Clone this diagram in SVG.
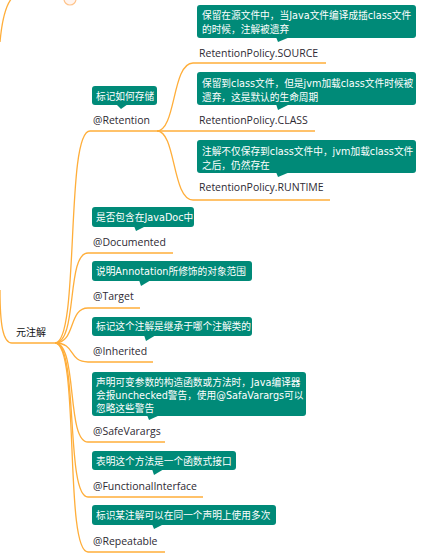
<svg xmlns="http://www.w3.org/2000/svg" width="436" height="559" viewBox="0 0 436 559">
<style>
.c{fill:none;stroke:#ffae3a;stroke-width:1.3}
.box{fill:#008a78}
.ct{font-family:"DejaVu Sans","Noto Sans CJK SC",sans-serif;font-size:9.7px;fill:#ffffff}
.lb{font-family:"Open Sans","Noto Sans",sans-serif;font-size:10.5px;fill:#2e2a33}
.rt{font-family:"Noto Sans CJK SC",sans-serif;font-size:10px;fill:#111}
</style>
<rect width="436" height="559" fill="#ffffff"/>
<g id="connectors">
<path class="c" d="M0,42 C2,20 5,6 12,-2"/>
<path class="c" d="M0,290 C0,325 3,343 12,343 H55"/>
<path class="c" d="M55,343 C80,343 65,131 90,131 H157"/>
<path class="c" d="M157,131 C176,131 172,63 193,63 H326"/>
<path class="c" d="M157,131 H315"/>
<path class="c" d="M157,131 C176,131 172,200 193,200 H330"/>
<path class="c" d="M55,343 C78,343 66,253 88,253 H173"/>
<path class="c" d="M55,343 C76,343 68,308 88,308 H140"/>
<path class="c" d="M55,343 C76,343 68,362 88,362 H153"/>
<path class="c" d="M55,343 C78,343 66,442 88,442 H165"/>
<path class="c" d="M55,343 C79,343 65,497 88,497 H203"/>
<path class="c" d="M55,343 C80,343 64,552 88,552 H165"/>
</g>
<circle cx="70" cy="-1" r="6" fill="#fff5f0" stroke="#ffc38a" stroke-width="1.2"/>
<g id="root"><text class="rt" x="16" y="336">元注解</text></g>
<g id="retention">
<rect class="box" x="92" y="86" width="65" height="19" rx="3"/>
<polygon class="box" points="116,104 128,104 121,109"/>
<text class="ct" x="96" y="100">标记如何存储</text>
<text class="lb" x="93" y="124">@Retention</text>
</g>
<g id="source">
<rect class="box" x="197" y="5" width="219" height="33" rx="3"/>
<polygon class="box" points="276,37 290,37 278,42"/>
<text class="ct" x="202" y="19">保留在源文件中，当Java文件编译成插class文件</text>
<text class="ct" x="202" y="33">的时候，注解被遗弃</text>
<text class="lb" x="199" y="57">RetentionPolicy.SOURCE</text>
</g>
<g id="class">
<rect class="box" x="197" y="72" width="219" height="33" rx="3"/>
<polygon class="box" points="276,104 290,104 278,110"/>
<text class="ct" x="202" y="87">保留到class文件，但是jvm加载class文件时候被</text>
<text class="ct" x="202" y="101">遗弃，这是默认的生命周期</text>
<text class="lb" x="199" y="124">RetentionPolicy.CLASS</text>
</g>
<g id="runtime">
<rect class="box" x="197" y="140" width="219" height="33" rx="3"/>
<polygon class="box" points="276,172 290,172 278,177"/>
<text class="ct" x="202" y="155">注解不仅保存到class文件中，jvm加载class文件</text>
<text class="ct" x="202" y="169">之后，仍然存在</text>
<text class="lb" x="199" y="191">RetentionPolicy.RUNTIME</text>
</g>
<g id="documented">
<rect class="box" x="92" y="207" width="102" height="20" rx="3"/>
<polygon class="box" points="134,226 146,226 136,231"/>
<text class="ct" x="96" y="221">是否包含在JavaDoc中</text>
<text class="lb" x="93" y="246">@Documented</text>
</g>
<g id="target">
<rect class="box" x="92" y="261" width="160" height="20" rx="3"/>
<polygon class="box" points="139,280 151,280 141,286"/>
<text class="ct" x="96" y="275">说明Annotation所修饰的对象范围</text>
<text class="lb" x="93" y="300">@Target</text>
</g>
<g id="inherited">
<rect class="box" x="92" y="317" width="160" height="19" rx="3"/>
<polygon class="box" points="144,335 156,335 146,341"/>
<text class="ct" x="96" y="330">标记这个注解是继承于哪个注解类的</text>
<text class="lb" x="93" y="355">@Inherited</text>
</g>
<g id="safevarargs">
<rect class="box" x="92" y="372" width="214" height="44" rx="3"/>
<polygon class="box" points="147,415 160,415 149,420"/>
<text class="ct" x="96" y="386">声明可变参数的构造函数或方法时，Java编译器</text>
<text class="ct" x="96" y="399">会报unchecked警告，使用@SafaVarargs可以</text>
<text class="ct" x="96" y="412">忽略这些警告</text>
<text class="lb" x="93" y="435">@SafeVarargs</text>
</g>
<g id="functionalinterface">
<rect class="box" x="92" y="451" width="144" height="19" rx="3"/>
<polygon class="box" points="152,469 164,469 154,475"/>
<text class="ct" x="96" y="465">表明这个方法是一个函数式接口</text>
<text class="lb" x="93" y="490">@FunctionalInterface</text>
</g>
<g id="repeatable">
<rect class="box" x="92" y="505" width="184" height="20" rx="3"/>
<polygon class="box" points="152,524 164,524 154,529"/>
<text class="ct" x="96" y="519">标识某注解可以在同一个声明上使用多次</text>
<text class="lb" x="93" y="545">@Repeatable</text>
</g>
</svg>
